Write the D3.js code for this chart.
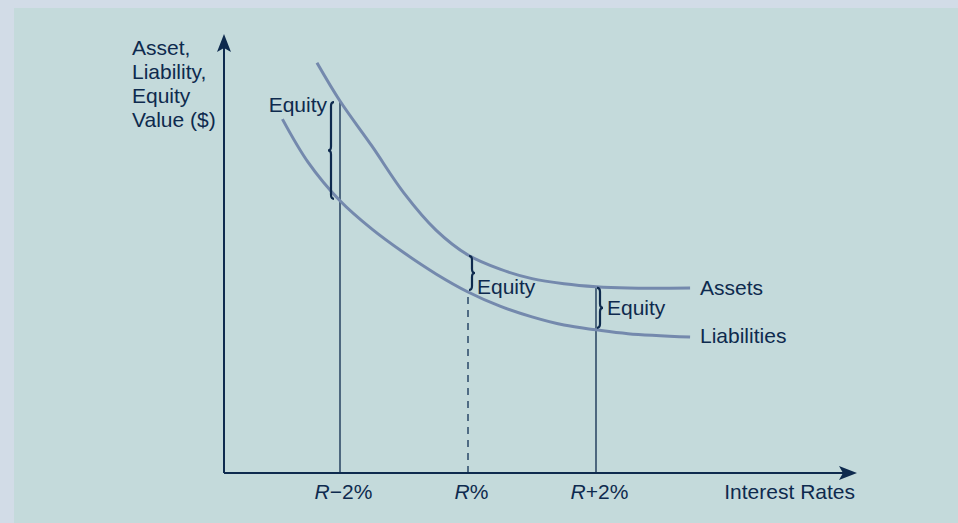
<!DOCTYPE html>
<html>
<head>
<meta charset="utf-8">
<script src="https://cdn.jsdelivr.net/npm/d3@7/dist/d3.min.js"></script>
<style>
	html, body { margin: 0; padding: 0; background: #d2dce7; }
	svg { display: block; }
	text { font-family: "Liberation Sans", Arial, sans-serif; fill: #0e2a4e; }
</style>
</head>
<body>
<svg id="chart" width="958" height="523"></svg>
<script>
// interest rate offsets from R, in percentage points
const assetRates = [-2.36, -2, -1.5, -1, -0.5, 0, 0.5, 1, 1.5, 2, 2.5, 3.47];
const assetValues = [95.4, 86.5, 76.0, 65.1, 56.5, 50.7, 47.4, 45.2, 44.0, 43.3, 43.0, 43.0];

const liabilityRates = [-2.9, -2.5, -2, -1.5, -1, -0.5, 0, 0.5, 1, 1.5, 2, 2.5, 3.47];
const liabilityValues = [82.3, 72.3, 63.3, 56.7, 51.2, 46.3, 42.1, 38.8, 36.3, 34.4, 33.3, 32.4, 31.6];

const tickRates = [-2, 0, 2];
const tickLabels = [['R', '\u22122%'], ['R', '%'], ['R', '+2%']];
const yLabelLines = ['Asset,', 'Liability,', 'Equity', 'Value ($)'];

const ink = '#0e2a4e';
const curveColor = '#7489ad';
const fontSize = 21;

const svg = d3.select('#chart');

// panel
svg.append('rect')
	.attr('x', 14).attr('y', 8)
	.attr('width', 958 - 14).attr('height', 523 - 8)
	.attr('fill', '#c4dadb');

const x = d3.scaleLinear().domain([-3.8125, 6.0]).range([224, 852]);
const y = d3.scaleLinear().domain([0, 100]).range([473, 43]);

const assets = assetRates.map((r, i) => ({ r, v: assetValues[i] }));
const liabilities = liabilityRates.map((r, i) => ({ r, v: liabilityValues[i] }));

const line = d3.line().x(d => x(d.r)).y(d => y(d.v)).curve(d3.curveCatmullRom.alpha(0.5));

// value lookup on a series at a given rate
const valueAt = (series, r) => series.find(d => d.r === r).v;

// vertical guides
tickRates.forEach(r => {
	const dashed = r === 0;
	const top = dashed ? valueAt(liabilities, r) : valueAt(assets, r);
	svg.append('line')
		.attr('x1', x(r)).attr('x2', x(r))
		.attr('y1', y(0)).attr('y2', y(top))
		.attr('stroke', dashed ? '#33506f' : ink)
		.attr('stroke-width', dashed ? 1.6 : 1.3)
		.attr('stroke-dasharray', dashed ? '7,6' : null);
});

// curves
[assets, liabilities].forEach(s => {
	svg.append('path')
		.datum(s)
		.attr('d', line)
		.attr('fill', 'none')
		.attr('stroke', curveColor)
		.attr('stroke-width', 3);
});

// axes
const x0 = x.range()[0];
const y0 = y(0);
svg.append('line').attr('x1', x0).attr('x2', x0).attr('y1', y0).attr('y2', 46)
	.attr('stroke', ink).attr('stroke-width', 2);
svg.append('path').attr('d', `M${x0},34 L${x0 - 7},52 L${x0},48 L${x0 + 7},52 Z`).attr('fill', ink);
svg.append('line').attr('x1', x0).attr('x2', 846).attr('y1', y0).attr('y2', y0)
	.attr('stroke', ink).attr('stroke-width', 2);
svg.append('path').attr('d', `M857,${y0} L839,${y0 - 7} L843,${y0} L839,${y0 + 7} Z`).attr('fill', ink);

const xAxis = svg.append('g')
	.attr('transform', `translate(0, ${y0})`)
	.call(d3.axisBottom(x).tickValues(tickRates).tickSize(0).tickPadding(0));
xAxis.select('.domain').remove();
xAxis.selectAll('.tick text').each(function(d, i) {
	const t = d3.select(this).text('')
		.attr('x', 3).attr('y', 26).attr('dy', null)
		.attr('font-size', fontSize).attr('font-family', null).attr('fill', ink);
	t.append('tspan').attr('font-style', 'italic').text(tickLabels[i][0]);
	t.append('tspan').text(tickLabels[i][1]);
});

svg.append('text')
	.attr('x', 855).attr('y', 499)
	.attr('text-anchor', 'end')
	.attr('font-size', fontSize)
	.text('Interest Rates');

// y label
svg.append('text')
	.attr('x', 132).attr('font-size', fontSize)
	.selectAll('tspan').data(yLabelLines).join('tspan')
	.attr('x', 132)
	.attr('y', (d, i) => 55 + i * 24)
	.text(d => d);

// curve names
svg.append('text').attr('x', 700).attr('y', 295).attr('font-size', fontSize).text('Assets');
svg.append('text').attr('x', 700).attr('y', 343).attr('font-size', fontSize).text('Liabilities');

// curly brace, dir = 1 points right, -1 points left
const bracePath = (bx, y1, y2, dir, w) => {
	const ym = (y1 + y2) / 2;
	const xm = bx + dir * w * 0.5;
	const xt = bx + dir * w;
	const k = Math.min(4, (y2 - y1) / 6);
	return `M${bx},${y1} Q${xm},${y1} ${xm},${y1 + k} L${xm},${ym - k} Q${xm},${ym} ${xt},${ym}` +
		` Q${xm},${ym} ${xm},${ym + k} L${xm},${y2 - k} Q${xm},${y2} ${bx},${y2}`;
};

const braces = [
	{ r: -2, dx: -6, dir: -1, w: 6, label: 'Equity', lx: -13, ly: 112, anchor: 'end' },
	{ r: 0, dx: 1, dir: 1, w: 6, label: 'Equity', lx: 9, ly: 294, anchor: 'start' },
	{ r: 2, dx: 1, dir: 1, w: 6, label: 'Equity', lx: 11, ly: 315, anchor: 'start' }
];

braces.forEach(b => {
	const top = y(valueAt(assets, b.r)) + 1;
	const bot = y(valueAt(liabilities, b.r)) - 2;
	svg.append('path')
		.attr('d', bracePath(x(b.r) + b.dx, top, bot, b.dir, b.w))
		.attr('fill', 'none')
		.attr('stroke', ink)
		.attr('stroke-width', 2.2);
	svg.append('text')
		.attr('x', x(b.r) + b.lx).attr('y', b.ly)
		.attr('text-anchor', b.anchor)
		.attr('font-size', fontSize)
		.text(b.label);
});
</script>
</body>
</html>
